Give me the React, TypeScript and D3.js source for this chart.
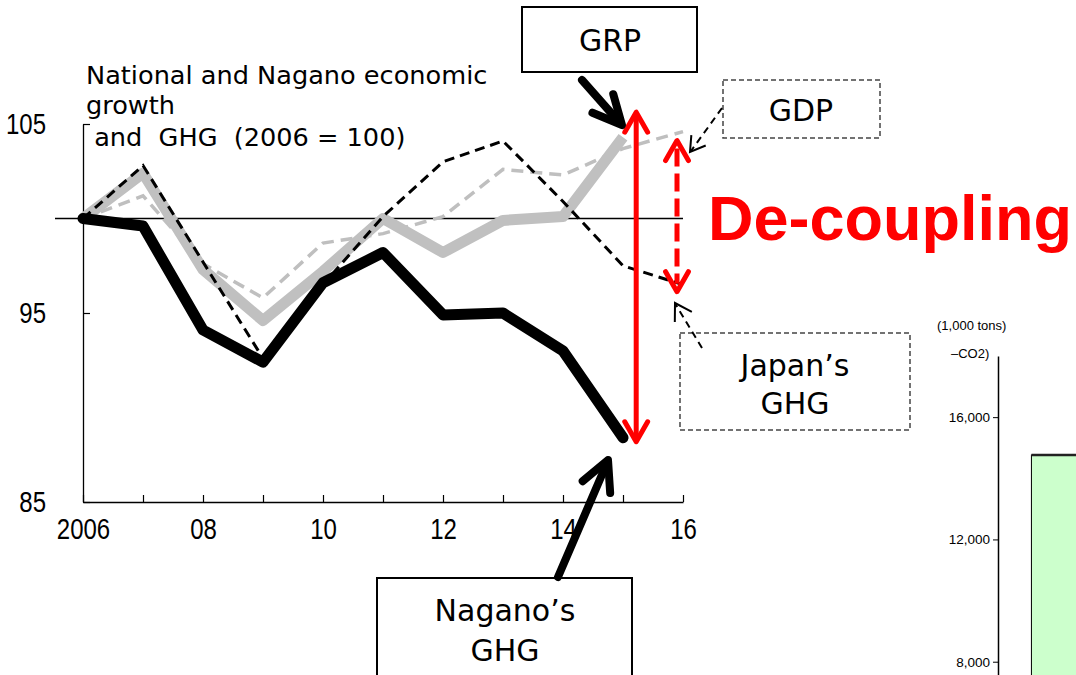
import React, { useEffect, useRef } from 'react';
import * as d3 from 'd3';

// index values, 2006 = 100
const years: number[] = [2006, 2007, 2008, 2009, 2010, 2011, 2012, 2013, 2014, 2015, 2016];
const grp: number[] = [100, 102.4, 97.3, 94.6, 97.2, 100.0, 98.2, 99.9, 100.1, 104.3];
const gdp: number[] = [100, 101.2, 97.6, 95.8, 98.7, 99.2, 100.1, 102.6, 102.3, 103.7, 104.6];
const japanGhg: number[] = [100, 102.8, 97.7, 92.6, 96.5, 100.1, 103.0, 104.1, 100.9, 97.5, 96.5];
const naganoGhg: number[] = [100, 99.6, 94.1, 92.4, 96.6, 98.2, 94.9, 95.0, 93.0, 88.4];

const yTicks: number[] = [85, 95, 105];
const xLabels: { [key: number]: string } = {
  2006: '2006',
  2008: '08',
  2010: '10',
  2012: '12',
  2014: '14',
  2016: '16',
};

// partial bar chart at the right edge (1,000 tons CO2)
const barCategories: string[] = ['base'];
const barValues: number[] = [14760];
const barTicks: number[] = [8000, 12000, 16000];

const W = 1076;
const H = 675;

const x = d3.scaleLinear().domain([2006, 2016]).range([83, 683]);
const y = d3.scaleLinear().domain([85, 105]).range([502, 124]);

const y2 = d3.scaleLinear().domain([4000, 18000]).range([784, 356]);
const x2 = d3.scaleBand().domain(barCategories).range([1010, 1160]).paddingInner(0).paddingOuter(0.2);

const line = d3
  .line<number>()
  .x((d, i) => x(years[i]))
  .y((d) => y(d));

/* open V arrow head at (x2,y2) pointing away from (x1,y1) */
const head = (x1: number, y1: number, x2: number, y2: number, len: number, ang: number): string => {
  const a = Math.atan2(y2 - y1, x2 - x1);
  const p1 = [x2 - len * Math.cos(a - ang), y2 - len * Math.sin(a - ang)];
  const p2 = [x2 - len * Math.cos(a + ang), y2 - len * Math.sin(a + ang)];
  return `M${p1[0]},${p1[1]}L${x2},${y2}L${p2[0]},${p2[1]}`;
};

const sans = 'DejaVu Sans, Verdana, sans-serif';
const arial = 'Liberation Sans, Arial, sans-serif';
const squeeze = 0.8; // tick labels are a condensed face

const App = () => {
  const xAxisRef = useRef<SVGGElement | null>(null);
  const yAxisRef = useRef<SVGGElement | null>(null);
  const y2AxisRef = useRef<SVGGElement | null>(null);

  useEffect(() => {
    const xAxis = d3
      .axisBottom(x)
      .tickValues(years)
      .tickFormat((d) => xLabels[d as number] || '')
      .tickSizeInner(-7)
      .tickSizeOuter(0)
      .tickPadding(16);
    const gx = d3.select(xAxisRef.current!);
    gx.call(xAxis as any);
    gx.select('.domain').attr('stroke', '#000').attr('stroke-width', 1.3);
    gx.selectAll('line').attr('stroke-width', 1.2);
    gx.selectAll('text')
      .attr('font-family', arial)
      .attr('font-size', 30)
      .attr('fill', '#000')
      .attr('transform', `scale(${squeeze},1)`);

    const yAxis = d3
      .axisLeft(y)
      .tickValues(yTicks)
      .tickSizeInner(-7)
      .tickSizeOuter(0)
      .tickPadding(37);
    const gy = d3.select(yAxisRef.current!);
    gy.call(yAxis as any);
    gy.select('.domain').attr('stroke-width', 1.3);
    gy.selectAll('line').attr('stroke-width', 1.2);
    gy.selectAll('text')
      .attr('font-family', arial)
      .attr('font-size', 30)
      .attr('fill', '#000')
      .attr('x', -37 / squeeze)
      .attr('transform', `scale(${squeeze},1)`);

    const y2Axis = d3
      .axisLeft(y2)
      .tickValues(barTicks)
      .tickFormat(d3.format(','))
      .tickSizeInner(5)
      .tickSizeOuter(0)
      .tickPadding(3);
    const g2 = d3.select(y2AxisRef.current!);
    g2.call(y2Axis as any);
    g2.select('.domain').attr('stroke-width', 1.5);
    g2.selectAll('text').attr('font-family', arial).attr('font-size', 13.5).attr('fill', '#000');
  }, []);

  // annotation anchors derived from the data
  const last = years.length - 1;
  const redX = x(2015.22);
  const redTop = y(grp[last - 1]) - 25;
  const redBot = y(naganoGhg[last - 1]) + 4;
  const redDX = x(2015.9);
  const redDTop = y(gdp[last]) + 9;
  const redDBot = y(japanGhg[last]) + 7;

  return (
    <svg
      width={W}
      height={H}
      style={{ position: 'absolute', left: 0, top: 0, background: '#fff' }}
    >
      {/* title */}
      <text fontFamily={sans} fontSize={25.6} fill="#000" style={{ whiteSpace: 'pre' }}>
        <tspan x={86} y={84}>National and Nagano economic</tspan>
        <tspan x={86} y={114}>growth</tspan>
        <tspan x={86} y={146}>{' and  GHG  (2006 = 100)'}</tspan>
      </text>

      <g ref={xAxisRef} transform={`translate(0,${y(85)})`} />
      <g ref={yAxisRef} transform={`translate(${x(2006)},0)`} />

      {/* 2006 = 100 reference */}
      <line x1={55} x2={x(2016)} y1={y(100)} y2={y(100)} stroke="#000" strokeWidth={1.5} />

      {/* series */}
      <path d={line(gdp) || ''} fill="none" stroke="#bfbfbf" strokeWidth={3.5} strokeDasharray="12 7" />
      <path d={line(grp) || ''} fill="none" stroke="#c0c0c0" strokeWidth={11} strokeLinejoin="round" />
      <path d={line(japanGhg) || ''} fill="none" stroke="#000" strokeWidth={3} strokeDasharray="10 6" />
      <path d={line(naganoGhg) || ''} fill="none" stroke="#000" strokeWidth={11} strokeLinejoin="round" strokeLinecap="round" />

      {/* red double arrows */}
      <g stroke="#ff0000" fill="none" strokeWidth={5}>
        <line x1={redX} x2={redX} y1={redTop + 2} y2={redBot - 2} />
        <path d={head(redX, redBot, redX, redTop, 23, 0.52)} strokeLinejoin="round" strokeLinecap="round" />
        <path d={head(redX, redTop, redX, redBot, 23, 0.52)} strokeLinejoin="round" strokeLinecap="round" />
        <line x1={redDX} x2={redDX} y1={redDTop + 8} y2={redDBot - 8} strokeDasharray="18 7" />
        <path d={head(redDX, redDBot, redDX, redDTop, 23, 0.52)} strokeLinejoin="round" strokeLinecap="round" />
        <path d={head(redDX, redDTop, redDX, redDBot, 23, 0.52)} strokeLinejoin="round" strokeLinecap="round" />
      </g>

      <text x={708} y={240} fontFamily={arial} fontWeight="bold" fontSize={63} fill="#ff0000">
        De-coupling
      </text>

      {/* GRP label */}
      <rect x={522} y={7} width={175} height={65} fill="#fff" stroke="#000" strokeWidth={2} />
      <text x={610} y={51} textAnchor="middle" fontFamily={sans} fontSize={30}>GRP</text>
      <g stroke="#000" fill="none" strokeWidth={8} strokeLinecap="round" strokeLinejoin="round">
        <line x1={582} y1={80} x2={620} y2={123} />
        <path d={head(582, 80, 622, 125, 32, 0.45)} />
      </g>

      {/* GDP label */}
      <rect x={723} y={80} width={157} height={58} fill="#fff" stroke="#444" strokeWidth={1.5} strokeDasharray="5 3" />
      <text x={801} y={121} textAnchor="middle" fontFamily={sans} fontSize={30}>GDP</text>
      <g stroke="#000" fill="none" strokeWidth={2}>
        <line x1={722} y1={108} x2={691} y2={151} strokeDasharray="7 5" />
        <path d={head(722, 108, 690, 152, 17, 0.55)} />
      </g>

      {/* Japan's GHG label */}
      <rect x={680} y={333} width={230} height={97} fill="#fff" stroke="#444" strokeWidth={1.5} strokeDasharray="5 3" />
      <text x={795} y={376} textAnchor="middle" fontFamily={sans} fontSize={30}>Japan’s</text>
      <text x={795} y={414} textAnchor="middle" fontFamily={sans} fontSize={30}>GHG</text>
      <g stroke="#000" fill="none" strokeWidth={2}>
        <line x1={702} y1={348} x2={676} y2={305} strokeDasharray="7 5" />
        <path d={head(702, 348, 675, 303, 19, 0.55)} />
      </g>

      {/* Nagano's GHG label */}
      <rect x={377} y={578} width={255} height={120} fill="#fff" stroke="#000" strokeWidth={2} />
      <text x={505} y={621} textAnchor="middle" fontFamily={sans} fontSize={30}>Nagano’s</text>
      <text x={505} y={661} textAnchor="middle" fontFamily={sans} fontSize={30}>GHG</text>
      <g stroke="#000" fill="none" strokeWidth={8} strokeLinecap="round" strokeLinejoin="round">
        <line x1={558} y1={577} x2={607} y2={463} />
        <path d={head(558, 577, 608, 460, 33, 0.47)} />
      </g>

      {/* partial bar chart on the right */}
      <text x={937} y={330} fontFamily={arial} fontSize={13}>(1,000 tons)</text>
      <text x={951} y={358} fontFamily={arial} fontSize={13}>–CO2)</text>
      <g ref={y2AxisRef} transform="translate(998,0)" />
      {barCategories.map((c, i) => (
        <g key={c}>
          <rect
            x={x2(c)!}
            y={y2(barValues[i])}
            width={x2.bandwidth()}
            height={H - y2(barValues[i]) + 10}
            fill="#ccffcc"
            stroke="#000"
            strokeWidth={1}
          />
          <line
            x1={x2(c)!}
            x2={x2(c)! + x2.bandwidth()}
            y1={y2(barValues[i])}
            y2={y2(barValues[i])}
            stroke="#222"
            strokeWidth={2.5}
          />
        </g>
      ))}
    </svg>
  );
};

export default App;
